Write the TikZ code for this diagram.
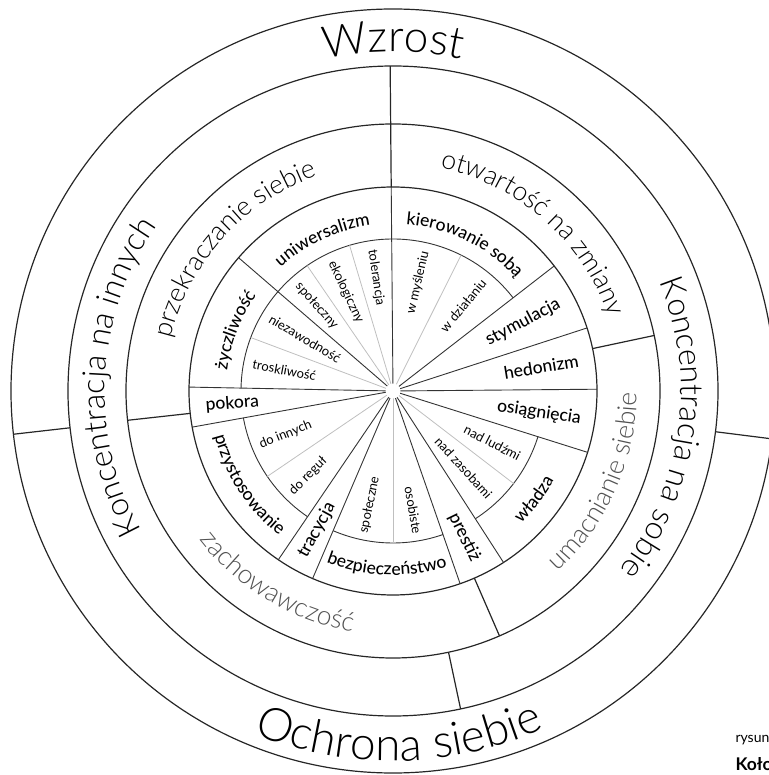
\documentclass[tikz,border=0pt]{standalone}
\usepackage{fontspec}
\setmainfont{Lato}
\newfontfamily\thinfont{Lato Light}
\newfontfamily\midfont{Lato Medium}
\usepackage{tikz}
\usetikzlibrary{decorations.text}

\newcommand{\outerfont}{\thinfont\fontsize{44}{50}\selectfont}
\newcommand{\bottomfont}{\thinfont\fontsize{46}{52}\selectfont}
\newcommand{\focusfont}{\thinfont\fontsize{32}{37}\selectfont}
\newcommand{\groupfont}{\thinfont\fontsize{26.5}{30}\selectfont}
\newcommand{\valuefont}{\midfont\fontsize{17.5}{20}\selectfont}
\newcommand{\subfont}{\fontsize{13}{15}\selectfont}

\begin{document}
\begin{tikzpicture}[x=1pt, y=1pt,
    ring/.style={line width=1.2pt, black!85},
    divider/.style={line width=0.9pt, black!80},
    subdivider/.style={line width=0.8pt, black!25},
    arclabel/.style={decorate, decoration={text along path, text align=center, text={#1}}},
    valuelabel/.style={font=\valuefont, inner sep=0pt},
    sublabel/.style={font=\subfont, inner sep=0pt}]
    \useasboundingbox (-393,-384) rectangle (375,391);

    % Rings
    \foreach \r in {204,267,325,382} {
        \draw[ring] (0,0) circle (\r);
    }

    % Ring dividers
    \foreach \a in {186.5,-7.2} {
        \draw[ring] (\a:325) -- (\a:382);
    }
    \draw[ring] (-78:267) -- (-78:325);
    \foreach \a in {12,-66.5,186.3} {
        \draw[ring] (\a:204) -- (\a:267);
    }
    \draw[ring] (90.5:204) -- (90.5:325);

    % Value dividers
    \foreach \a in {90.5,37.8,18,0.5,-17.5,-57.2,-70.8,246.8,235.8,190.2,178.9,139.2} {
        \draw[divider] (0,0) -- (\a:204);
    }

    % Inner arcs
    \foreach \s/\e in {37.8/178.9,-57.2/-17.5,-113.2/-70.8,190.2/235.8} {
        \draw[divider] (\s:152) arc[start angle=\s, end angle=\e, radius=152];
    }

    % Sub dividers
    \foreach \a in {106.6,124.4,159.4,63.4,-37.5,-90,214.2} {
        \draw[subdivider] (0,0) -- (\a:152);
    }
    \fill[white] (0,0) circle (7.5);

    % Outer labels
    \path[arclabel={|\outerfont|Wzrost}] (140:339) arc[start angle=140, end angle=40, radius=339];
    \path[arclabel={|\bottomfont|Ochrona siebie}] (-139:370) arc[start angle=-139, end angle=-39, radius=370];
    \path[arclabel={|\focusfont|Koncentracja na innych}] (237:288) arc[start angle=237, end angle=117, radius=288];
    \path[arclabel={|\focusfont|Koncentracja na sobie}] (52:288) arc[start angle=52, end angle=-68, radius=288];

    % Group labels
    \path[arclabel={|\groupfont|przekraczanie siebie}] (183:228) arc[start angle=183, end angle=93, radius=228];
    \path[arclabel={|\groupfont|otwartość na zmiany}] (93.5:228) arc[start angle=93.5, end angle=3.5, radius=228];
    \path[arclabel={|\groupfont\color{black!68}|umacnianie siebie}] (-69:244) arc[start angle=-69, end angle=21, radius=244];
    \path[arclabel={|\groupfont\color{black!68}|zachowawczość}] (194:244) arc[start angle=194, end angle=284, radius=244];

    % Value labels along the ring
    \path[arclabel={|\valuefont|kierowanie sobą}] (104:167) arc[start angle=104, end angle=24, radius=167];
    \path[arclabel={|\valuefont|uniwersalizm}] (155:167) arc[start angle=155, end angle=75, radius=167];
    \path[arclabel={|\valuefont|życzliwość}] (199:167) arc[start angle=199, end angle=119, radius=167];
    \path[arclabel={|\valuefont|przystosowanie}] (173:184) arc[start angle=173, end angle=253, radius=184];
    \path[arclabel={|\valuefont|bezpieczeństwo}] (-132:184) arc[start angle=-132, end angle=-52, radius=184];
    \path[arclabel={|\valuefont|władza}] (-77.4:184) arc[start angle=-77.4, end angle=2.6, radius=184];

    % Value labels across the ring
    \node[valuelabel, anchor=west, rotate=4.5] (pokora) at (184.5:188) {pokora};
    \node[valuelabel, anchor=west, rotate=61.3] (tracycja) at (241.3:189) {tracycja};
    \node[valuelabel, anchor=east, rotate=-64] (prestiz) at (-64:189) {prestiż};
    \node[valuelabel, anchor=east, rotate=9.25] (hedonizm) at (9.25:188) {hedonizm};
    \node[valuelabel, anchor=east, rotate=27.9] (stymulacja) at (27.9:188) {stymulacja};
    \node[valuelabel, anchor=east, rotate=-8.5] (osiagniecia) at (-8.5:190) {osiągnięcia};

    % Sub labels
    \node[sublabel, anchor=west, rotate=-81.5] (tolerancja) at (98.5:143) {tolerancja};
    \node[sublabel, anchor=west, rotate=-64.5] (ekologiczny) at (115.5:143) {ekologiczny};
    \node[sublabel, anchor=west, rotate=-48.2] (spoleczny) at (131.8:143) {społeczny};
    \node[sublabel, anchor=west, rotate=-30.7] (niezawodnosc) at (149.3:143) {niezawodność};
    \node[sublabel, anchor=west, rotate=-10.8] (troskliwosc) at (169.2:143) {troskliwość};
    \node[sublabel, anchor=east, rotate=77] (myslenie) at (77:143) {w myśleniu};
    \node[sublabel, anchor=east, rotate=50.6] (dzialanie) at (50.6:143) {w działaniu};
    \node[sublabel, anchor=east, rotate=-27.5] (ludzie) at (-27.5:143) {nad ludźmi};
    \node[sublabel, anchor=east, rotate=-47.4] (zasoby) at (-47.4:143) {nad zasobami};
    \node[sublabel, anchor=east, rotate=-80.4] (osobiste) at (-80.4:145) {osobiste};
    \node[sublabel, anchor=west, rotate=78.4] (spoleczne) at (-101.6:145) {społeczne};
    \node[sublabel, anchor=west, rotate=22.2] (inni) at (202.2:144) {do innych};
    \node[sublabel, anchor=west, rotate=45] (reguly) at (225:144) {do reguł};

    % Caption
    \node[anchor=base west, font=\fontsize{14}{16}\selectfont] (rysunek) at (339,-351) {rysun};
    \node[anchor=base west, font=\bfseries\fontsize{17.5}{20}\selectfont] (kolo) at (339,-379) {Koło};
\end{tikzpicture}
\end{document}
